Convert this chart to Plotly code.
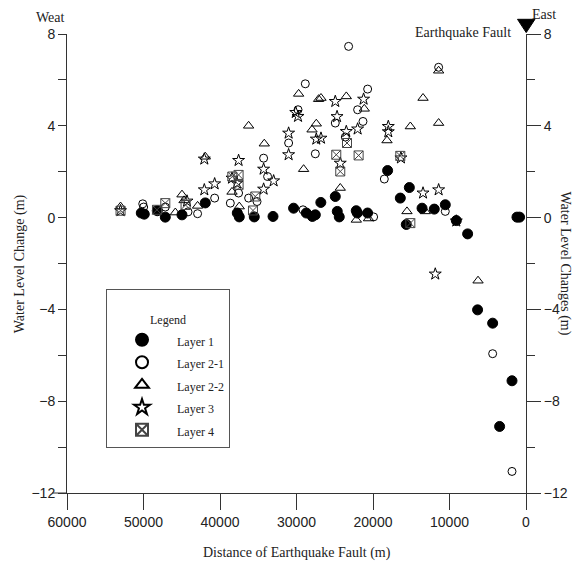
import plotly.graph_objects as go

# ---------------- data (distance from fault in m, water level change in m) ----------------
layer1_dist = [50290, 49900, 48200, 47150, 44970, 41920, 37740, 37480, 35520, 33070,
               30380, 28720, 27930, 27540, 26820, 24930, 24670, 24410, 22190, 22050,
               20710, 18090, 16430, 15250, 15650, 13590, 11990, 10550, 9110, 7630,
               6330, 4360, 3450, 1830, 1180, 840]
layer1_wl = [0.20, 0.15, 0.30, 0.02, 0.12, 0.64, 0.20, 0.03, 0.03, 0.05,
             0.41, 0.20, 0.05, 0.12, 0.66, 0.92, 0.27, 0.03, 0.30, 0.20,
             0.20, 2.05, 0.85, 1.31, -0.30, 0.41, 0.37, 0.56, -0.13, -0.71,
             -4.02, -4.60, -9.10, -7.11, 0.02, 0.02]

layer21_dist = [49980, 50100, 47150, 44180, 42930, 40700, 38650, 37570, 36260, 35160,
                34300, 33780, 31030, 29150, 29800, 28850, 27540, 24930, 23190, 22010,
                20700, 21310, 23620, 18520, 19920, 11420, 10550, 4360, 1830]
layer21_wl = [0.46, 0.60, 0.46, 0.25, 0.17, 0.85, 0.63, 1.07, 0.85, 0.70,
              2.59, 1.79, 3.25, 0.34, 4.70, 5.83, 2.78, 4.12, 7.46, 4.70,
              5.60, 4.19, 3.51, 1.68, 0.03, 6.55, 0.27, -5.93, -11.06]

layer22_dist = [53000, 45840, 44970, 44700, 42930, 41920, 38430, 37480, 36260, 34210,
                29720, 29070, 27410, 27110, 27970, 26800, 24280, 23490, 22180, 21140,
                20580, 18170, 15560, 15120, 13460, 11420, 11420, 13160, 6270]
layer22_wl = [0.48, 0.22, 1.00, 0.75, 0.51, 2.65, 1.12, 0.48, 4.00, 3.22,
              5.39, 2.11, 4.09, 5.16, 3.83, 5.21, 1.29, 5.28, -0.10, 4.74,
              -0.04, 3.36, 0.27, 3.97, 5.21, 6.40, 4.12, 0.27, -2.75]

layer3_dist = [53000, 44310, 42050, 42050, 40700, 38430, 37570, 37780, 34300, 34300,
               32990, 31030, 31030, 30100, 29800, 27410, 26800, 24930, 24700, 24280,
               23490, 22010, 21230, 18000, 18000, 16350, 13460, 11420, 11860, 9110]
layer3_wl = [0.30, 0.72, 1.21, 2.55, 1.47, 1.72, 2.49, 1.50, 2.11, 1.24,
             1.60, 3.68, 2.74, 4.58, 4.41, 3.42, 3.46, 5.06, 4.40, 2.37,
             3.75, 3.86, 5.16, 3.97, 3.74, 2.60, 1.07, 1.21, -2.46, -0.15]

layer4_dist = [53000, 48240, 47150, 44500, 38390, 37570, 37570, 35390, 35690, 24800,
               24280, 23400, 21880, 16430, 15120]
layer4_wl = [0.30, 0.34, 0.63, 0.55, 1.79, 1.86, 1.43, 0.92, 0.31, 2.74,
             2.01, 3.25, 2.71, 2.69, -0.24]

x_ticks = [60000, 50000, 40000, 30000, 20000, 10000, 0]
y_ticks = [-12, -8, -4, 0, 4, 8]
y_minor_ticks = [-10, -6, -2, 2, 6]

SERIF = "Liberation Serif, Times New Roman, serif"
SANS = "Liberation Sans, Arial, sans-serif"

fig = go.Figure()

series = [
    ("Layer 1", layer1_dist, layer1_wl, "circle", 10, "black"),
    ("Layer 2-1", layer21_dist, layer21_wl, "circle-open", 8, "black"),
    ("Layer 2-2", layer22_dist, layer22_wl, "triangle-up-open", 9, "black"),
    ("Layer 3", layer3_dist, layer3_wl, "star-open", 9, "black"),
    ("Layer 4", layer4_dist, layer4_wl, "square-x-open", 9, "#444444"),
]
for name, xs, ys, sym, size, col in series:
    fig.add_trace(go.Scatter(
        x=xs, y=ys, mode="markers",
        name='<span style="font-size:12px">' + name + "</span>",
        marker=dict(symbol=sym, size=size, color=col, line=dict(color=col, width=1)),
    ))

# invisible trace so the right-hand axis is drawn
fig.add_trace(go.Scatter(x=[None], y=[None], yaxis="y2", showlegend=False,
                         hoverinfo="skip"))

axis_common = dict(
    showgrid=False, zeroline=False, showline=True, linecolor="#333", linewidth=1,
    ticks="outside", tickcolor="#333", tickwidth=1,
    tickfont=dict(family=SANS, size=14, color="#222"),
)

fig.update_layout(
    width=579, height=563,
    margin=dict(l=67, r=53, t=34, b=70),
    paper_bgcolor="white", plot_bgcolor="white",
    showlegend=True,
    xaxis=dict(
        **axis_common, range=[60000, 0], tickvals=x_ticks,
        ticktext=[str(v) for v in x_ticks], ticklen=16,
    ),
    yaxis=dict(
        **axis_common, range=[-12, 8], tickvals=y_ticks, ticklen=8,
        minor=dict(tickvals=y_minor_ticks, ticklen=8, ticks="outside",
                   tickcolor="#333"),
    ),
    yaxis2=dict(
        **axis_common, range=[-12, 8], tickvals=y_ticks, ticklen=14,
        overlaying="y", side="right",
        minor=dict(tickvals=y_minor_ticks, ticklen=8, ticks="outside",
                   tickcolor="#333"),
    ),
    legend=dict(
        x=0.085, y=0.445, xanchor="left", yanchor="top",
        bordercolor="#555", borderwidth=1, bgcolor="white",
        font=dict(family=SERIF, size=15, color="#222"),
        title=dict(text='<span style="font-size:12px">Legend</span>', side="top center",
                   font=dict(family=SERIF, size=26, color="#222")),
        itemwidth=60, tracegroupgap=0, entrywidth=88, itemsizing="constant",
    ),
    annotations=[
        dict(text="Weat", xref="paper", yref="paper", x=0, y=1.036,
             xanchor="right", yanchor="middle", showarrow=False,
             font=dict(family=SERIF, size=14, color="#222")),
        dict(text="East", xref="paper", yref="paper", x=1.009, y=1.042,
             xanchor="left", yanchor="middle", showarrow=False,
             font=dict(family=SERIF, size=14, color="#222")),
        dict(text="Earthquake Fault", xref="paper", yref="paper", x=0.972, y=1.003,
             xanchor="right", yanchor="middle", showarrow=False,
             font=dict(family=SERIF, size=14, color="#222")),
        dict(text="Water Level Change (m)", xref="paper", yref="paper", x=-0.103, y=0.5,
             xanchor="center", yanchor="middle", textangle=-90, showarrow=False,
             font=dict(family=SERIF, size=14, color="#222")),
        dict(text="Water Level Changes (m)", xref="paper", yref="paper", x=1.085, y=0.5,
             xanchor="center", yanchor="middle", textangle=90, showarrow=False,
             font=dict(family=SERIF, size=14, color="#222")),
        dict(text="Distance of Earthquake Fault (m)", xref="paper", yref="paper",
             x=0.5, y=-0.13, xanchor="center", yanchor="middle", showarrow=False,
             font=dict(family=SERIF, size=14, color="#222")),
    ],
    shapes=[
        # longer -12 tick on the left
        dict(type="line", xref="paper", yref="paper", x0=-15 / 459, x1=0, y0=0, y1=0,
             line=dict(color="#333", width=1)),
        # fault location marker (filled down-pointing triangle) above the right axis
        dict(type="path", xref="paper", yref="paper",
             path="M 0.9815,1.032 L 1.0195,1.032 L 1.0005,1.003 Z",
             fillcolor="black", line=dict(color="black", width=1)),
    ],
)

fig.write_html("out.html", config={"displayModeBar": False},
               post_script="document.body.style.margin='0px';")
